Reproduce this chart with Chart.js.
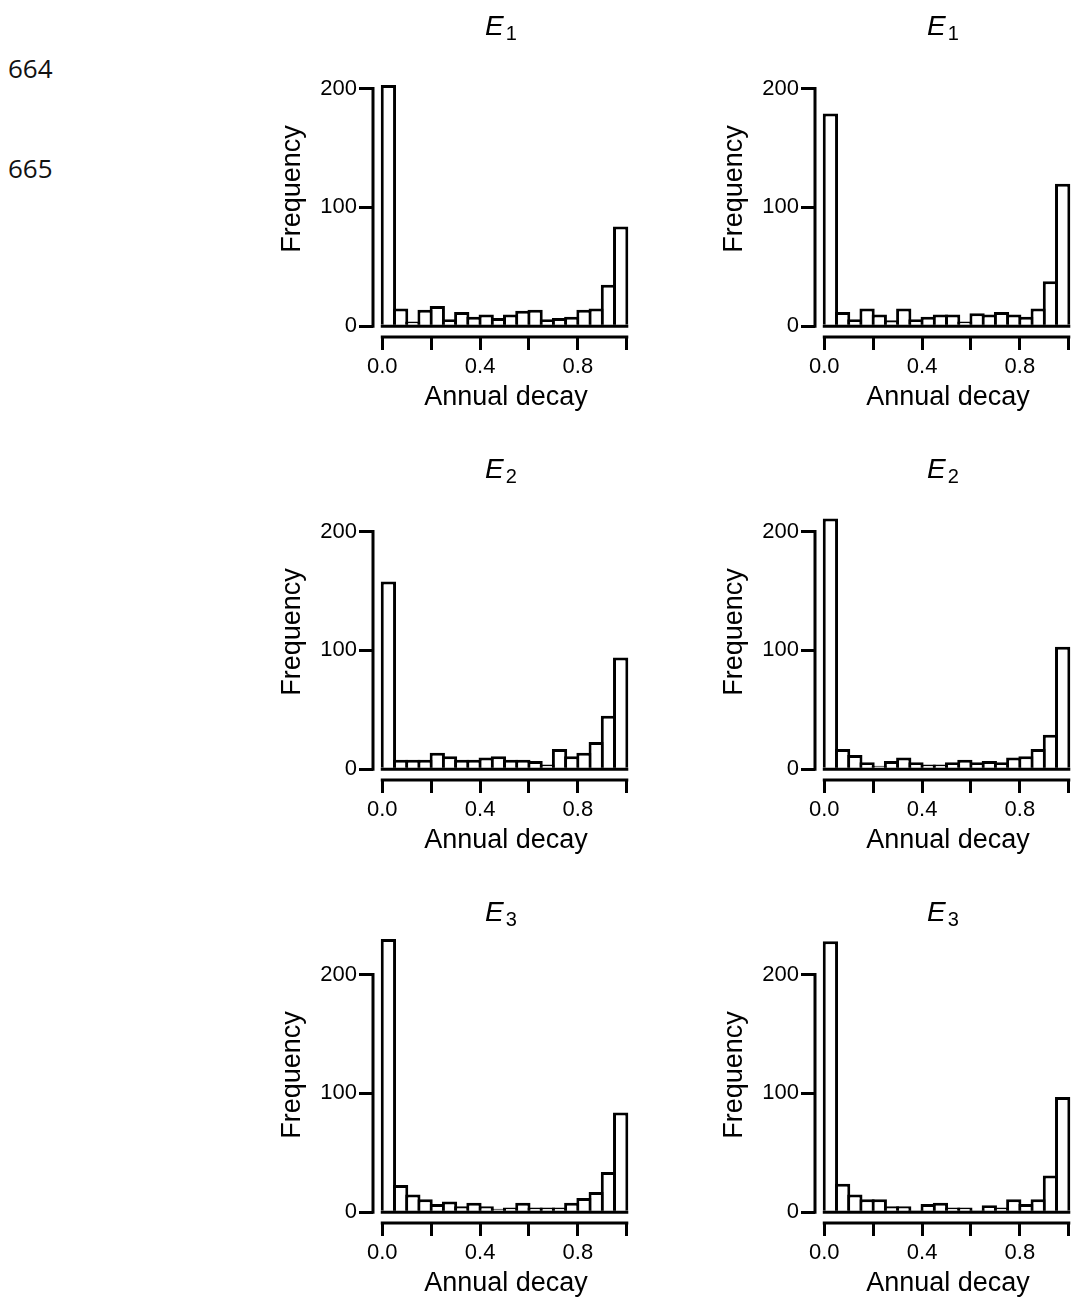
<!DOCTYPE html>
<html>
<head>
<meta charset="utf-8">
<script src="https://cdn.jsdelivr.net/npm/chart.js@4"></script>
<style>
  html, body { margin: 0; padding: 0; background: #fff; }
  body { width: 1077px; height: 1309px; position: relative; overflow: hidden; }
  .panel { position: absolute; width: 367px; height: 377px; }
  .titulo { position: absolute; width: 120px; text-align: center; font-family: "Liberation Sans", Arial, sans-serif; font-size: 28px; line-height: 28px; color: #000; }
  .titulo sub { font-size: 20px; font-style: normal; vertical-align: -5px; line-height: 0; margin-left: 2px; }
  .linea { position: absolute; left: 8px; font-family: "Open Sans", sans-serif; font-size: 26px; line-height: 26px; color: #111; }
</style>
</head>
<body>
<div class="linea" style="top:55px">664</div>
<div class="linea" style="top:155px">665</div>

<script>
// bins of width 0.05 between 0 and 1 (centres)
const binCentros = [0.025, 0.075, 0.125, 0.175, 0.225, 0.275, 0.325, 0.375, 0.425, 0.475,
                    0.525, 0.575, 0.625, 0.675, 0.725, 0.775, 0.825, 0.875, 0.925, 0.975];

// frequencies
const e1Izq = [203, 15, 4, 14, 17, 6, 12, 8, 10, 7, 10, 13, 14, 6, 7, 8, 14, 15, 35, 84];
const e1Der = [179, 12, 6, 15, 10, 5, 15, 6, 8, 10, 10, 4, 11, 10, 12, 10, 8, 15, 38, 120];
const e2Izq = [158, 8, 8, 8, 14, 11, 8, 8, 10, 11, 8, 8, 7, 4, 17, 11, 14, 23, 45, 94];
const e2Der = [211, 17, 12, 6, 3, 7, 10, 6, 4, 4, 6, 8, 6, 7, 6, 10, 11, 17, 29, 103];
const e3Izq = [230, 23, 15, 11, 7, 9, 5, 8, 5, 3, 4, 8, 4, 4, 4, 8, 12, 17, 34, 84];
const e3Der = [228, 24, 15, 11, 11, 5, 5, 2, 7, 8, 4, 4, 2, 6, 4, 11, 7, 11, 31, 97];

const xTicks = [0, 0.2, 0.4, 0.6, 0.8, 1.0];
const xTickLabels = ['0.0', '', '0.4', '', '0.8', ''];
const yTicks = [0, 100, 200];

const paneles = [
  { datos: e1Izq, sub: '1', left: 272, top: 41 },
  { datos: e1Der, sub: '1', left: 714, top: 41 },
  { datos: e2Izq, sub: '2', left: 272, top: 484 },
  { datos: e2Der, sub: '2', left: 714, top: 484 },
  { datos: e3Izq, sub: '3', left: 272, top: 927 },
  { datos: e3Der, sub: '3', left: 714, top: 927 }
];

Chart.defaults.font.family = '"Liberation Sans", Arial, sans-serif';
Chart.defaults.color = '#000';

// offset spines (axis lines stop at the first/last tick) + baseline under the bars
const ejes = {
  id: 'ejes',
  afterDatasetsDraw(chart) {
    const { ctx, chartArea, scales } = chart;
    const x = scales.x, y = scales.y;
    const y0 = y.getPixelForValue(0);
    ctx.save();
    ctx.strokeStyle = '#000';
    ctx.lineWidth = 3;
    ctx.beginPath();
    // baseline de las barras
    ctx.moveTo(x.getPixelForValue(0) - 1.5, y0);
    ctx.lineTo(x.getPixelForValue(1) + 1.5, y0);
    // eje y
    ctx.moveTo(chartArea.left, y.getPixelForValue(yTicks[yTicks.length - 1]) - 1.5);
    ctx.lineTo(chartArea.left, y0 + 1.5);
    // eje x
    ctx.moveTo(x.getPixelForValue(xTicks[0]) - 1.5, chartArea.bottom);
    ctx.lineTo(x.getPixelForValue(xTicks[xTicks.length - 1]) + 1.5, chartArea.bottom);
    ctx.stroke();
    ctx.restore();
  }
};

paneles.forEach(p => {
  const caja = document.createElement('div');
  caja.className = 'panel';
  caja.style.left = p.left + 'px';
  caja.style.top = p.top + 'px';
  const canvas = document.createElement('canvas');
  caja.appendChild(canvas);
  document.body.appendChild(caja);

  const tit = document.createElement('div');
  tit.className = 'titulo';
  tit.style.left = (p.left + 229 - 60) + 'px';
  tit.style.top = (p.top - 29) + 'px';
  tit.innerHTML = '<i>E</i><sub>' + p.sub + '</sub>';
  document.body.appendChild(tit);

  new Chart(canvas, {
    type: 'bar',
    data: {
      datasets: [{
        data: p.datos.map((v, i) => ({ x: binCentros[i], y: v })),
        backgroundColor: '#fff',
        borderColor: '#000',
        borderWidth: 3,
        borderSkipped: 'start',
        barPercentage: 1.25,
        categoryPercentage: 1
      }]
    },
    plugins: [ejes],
    options: {
      responsive: true,
      maintainAspectRatio: false,
      animation: false,
      layout: { padding: 0 },
      plugins: { legend: { display: false }, tooltip: { enabled: false } },
      scales: {
        x: {
          type: 'linear',
          offset: false,
          min: -0.038,
          max: 1.05,
          afterBuildTicks: s => { s.ticks = xTicks.map(v => ({ value: v })); },
          afterFit: s => { s.height = 81; s.paddingLeft = 0; s.paddingRight = 0; },
          grid: { offset: false, drawOnChartArea: false, drawTicks: true, tickLength: 13, color: '#000', lineWidth: 3 },
          border: { display: false },
          ticks: {
            autoSkip: false, maxRotation: 0, padding: 4,
            font: { size: 22 },
            callback: (v, i) => xTickLabels[i]
          },
          title: { display: true, text: 'Annual decay', font: { size: 27 }, padding: { top: 0, bottom: 4 } }
        },
        y: {
          min: -9,
          max: 240,
          afterBuildTicks: s => { s.ticks = yTicks.map(v => ({ value: v })); },
          afterFit: s => { s.width = 101; s.paddingTop = 0; s.paddingBottom = 0; },
          grid: { drawOnChartArea: false, drawTicks: true, tickLength: 14, color: '#000', lineWidth: 3 },
          border: { display: false },
          ticks: { padding: 2, font: { size: 22 }, callback: v => String(v) },
          title: { display: true, text: 'Frequency', font: { size: 27 }, padding: { top: 4, bottom: 0 } }
        }
      }
    }
  });
});
</script>
</body>
</html>
